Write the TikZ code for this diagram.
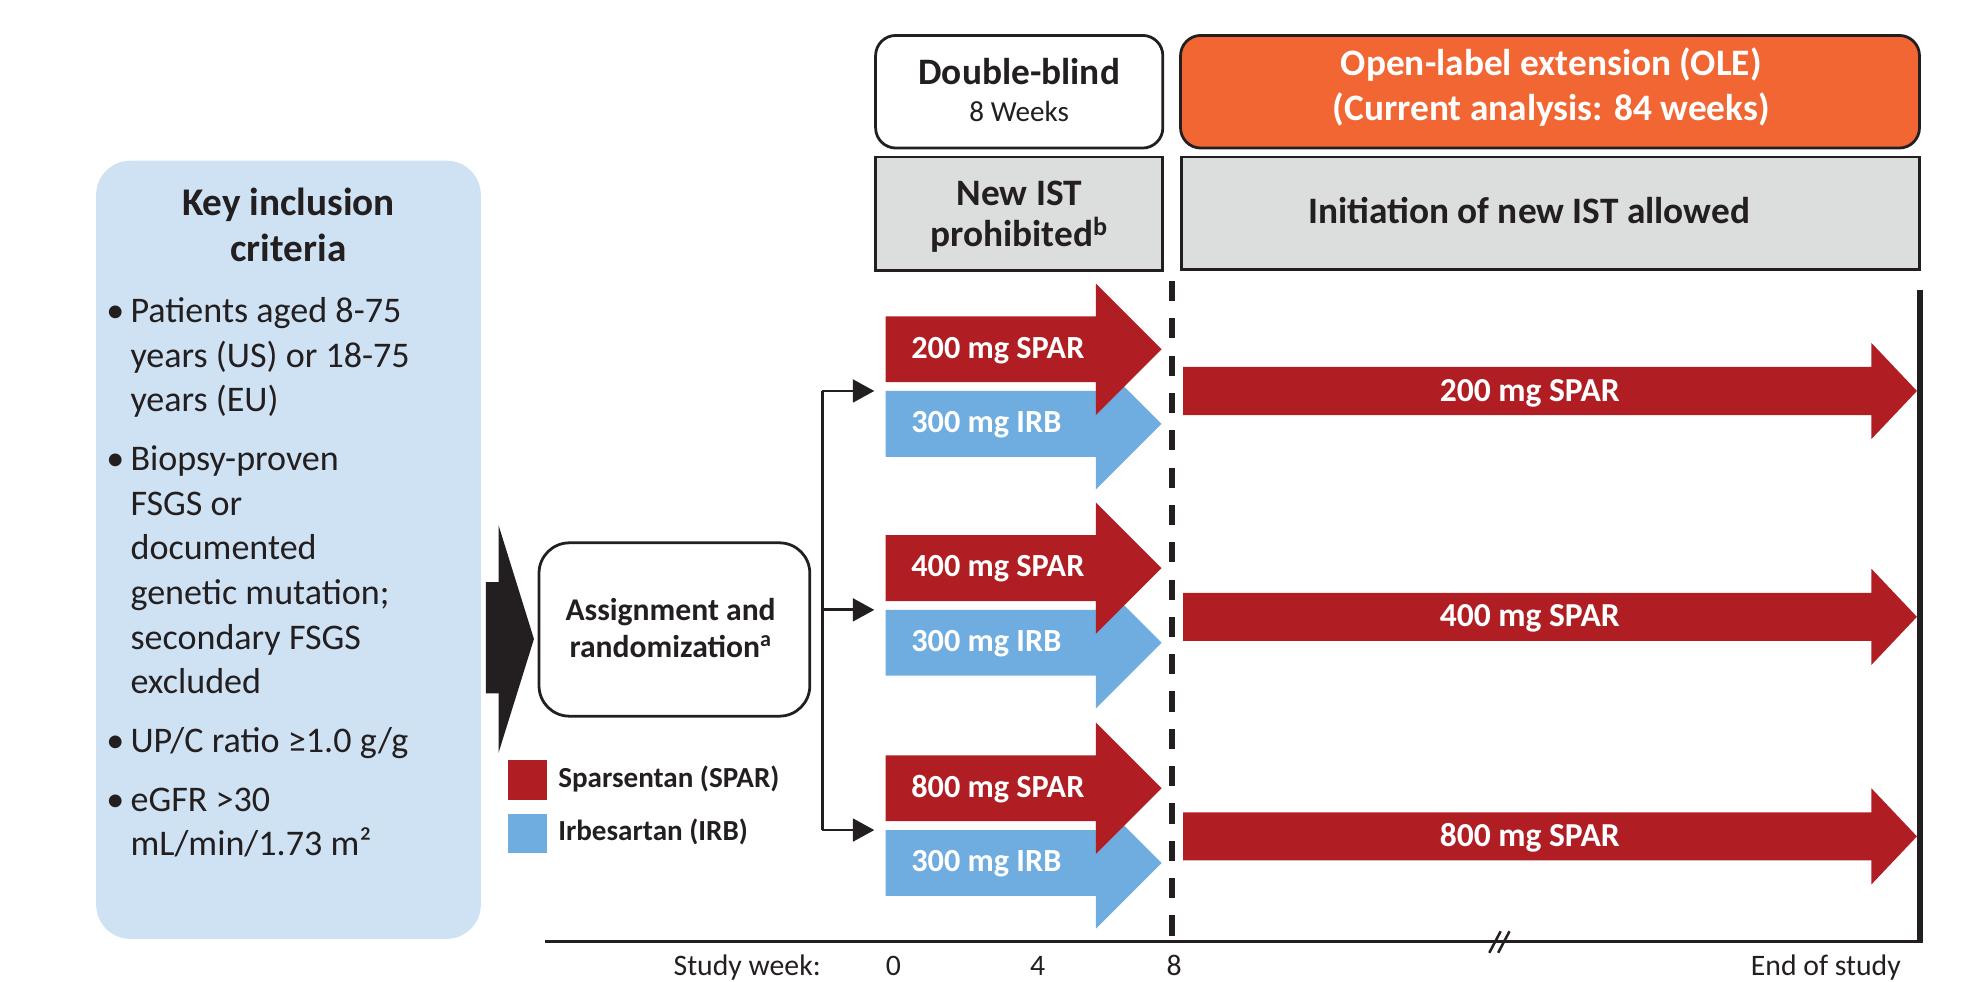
\documentclass[tikz,border=0pt]{standalone}
\usepackage{fontspec}
\setmainfont{Carlito}
\usetikzlibrary{arrows.meta}

\definecolor{ink}{HTML}{231F20}
\definecolor{spar}{HTML}{B01E24}
\definecolor{irb}{HTML}{6FADE0}
\definecolor{oleorange}{HTML}{F26633}
\definecolor{critblue}{HTML}{CFE2F3}
\definecolor{istgrey}{HTML}{DCDDDD}

\newcommand{\fsz}[2]{\fontsize{#1}{#2}\selectfont}
% bullet hanging left of the criteria text
\newcommand{\critem}{\leavevmode\llap{\textbullet\hspace{5pt}}}

\begin{document}
\begin{tikzpicture}[x=1pt,y=-1pt]
% border width of the boxes
\def\lw{2.2pt}
% node style definition
\tikzstyle{phase} = [draw=ink, line width=\lw, rounded corners=16pt, inner sep=0pt];
\tikzstyle{istbox} = [draw=ink, line width=\lw, fill=istgrey, inner sep=0pt];
\tikzstyle{plain} = [draw=none, fill=none, inner sep=0pt, text=ink];
\tikzstyle{hdtxt} = [plain, anchor=base, font=\bfseries\fsz{29.5}{36}];
\tikzstyle{dose} = [plain, text=white, font=\bfseries\fsz{25.5}{30}];
\tikzstyle{keytxt} = [plain, anchor=base west, font=\bfseries\fsz{23}{27}];
\tikzstyle{wklbl} = [plain, anchor=base, font=\fsz{23.5}{27}];
\tikzstyle{conn} = [draw=ink, line width=\lw, -{Triangle[length=17pt,width=18pt]}];

\useasboundingbox (0,0) rectangle (1568,776);

% inclusion criteria panel
\node[fill=critblue, rounded corners=27pt, minimum width=304pt, minimum height=615pt, inner sep=0pt] (crit) at (228,434.5) {};
\node[plain, anchor=base, font=\bfseries\fsz{31}{37}] (crittitle) at (228,170) {Key inclusion};
\node[plain, anchor=base, font=\bfseries\fsz{31}{37}] (crittitle2) at (228,207) {criteria};
\node[plain, anchor=base west, text width=270pt, align=left, font=\fsz{28.5}{35.3}] (critlist) at (103,255) {%
\spaceskip 6.5pt\relax
\critem Patients aged 8-75\\
years (US) or 18-75\\
years (EU)\\[11pt]
\critem Biopsy-proven\\
FSGS or\\
documented\\
genetic mutation;\\
secondary FSGS\\
excluded\\[11pt]
\critem UP/C ratio ≥1.0 g/g\\[11pt]
\critem eGFR >30\\
mL/min/1.73 m²};

% big arrow into randomization
\fill[ink] (384,460) -- (394,460) -- (394,415) -- (422,505) -- (394,595) -- (394,548) -- (384,548) -- cycle;

% randomization box
\node[phase, rounded corners=24pt, minimum width=214pt, minimum height=137pt] (assign) at (533,497.5) {};
\node[plain, anchor=base, font=\bfseries\fsz{25}{30}] (assigntxt) at (530,490) {Assignment and};
\node[plain, anchor=base, font=\bfseries\fsz{25}{30}] (assigntxt2) at (530,520) {randomization\textsuperscript{a}};

% legend
\node[fill=spar, minimum size=31pt, inner sep=0pt] (keyspar) at (417,616.5) {};
\node[keytxt] (keyspartxt) at (441,622.5) {Sparsentan (SPAR)};
\node[fill=irb, minimum size=31pt, inner sep=0pt] (keyirb) at (417,658.5) {};
\node[keytxt] (keyirbtxt) at (441,664.5) {Irbesartan (IRB)};

% phase headers
\node[phase, fill=white, minimum width=227pt, minimum height=89pt] (db) at (805.5,72.5) {};
\node[phase, fill=oleorange, minimum width=584pt, minimum height=89pt] (ole) at (1225,72.5) {};
\node[istbox, minimum width=227pt, minimum height=90pt] (ist) at (805.5,169) {};
\node[istbox, minimum width=583pt, minimum height=89pt] (istole) at (1225.5,168.5) {};

\node[hdtxt] (dbtitle) at (805.5,66.5) {Double-blind};
\node[plain, anchor=base, font=\fsz{23}{28}] (dbweeks) at (805.5,96) {8 Weeks};
\node[hdtxt, text=white] (oletitle) at (1226,59.5) {Open-label extension (OLE)};
\node[hdtxt, text=white] (olesub) at (1226,95) {(Current analysis: 84 weeks)};
\node[hdtxt] (isttitle) at (805.5,162.5) {New IST};
\node[hdtxt] (istsub) at (805.5,195) {prohibited\textsuperscript{b}};
\node[hdtxt] (istoletxt) at (1208.5,177) {Initiation of new IST allowed};

% dose arms: y of SPAR arrow / y of OLE arrow / dose
\foreach \y/\yo/\dose [count=\i] in {276/309/200, 449/487.5/400, 623/661/800}
{
	% irbesartan arrow (under the SPAR one)
	\fill[irb] (700,\y+33) -- (866,\y+33) -- (866,\y+7) -- (918,\y+59) -- (866,\y+111) -- (866,\y+85) -- (700,\y+85) -- cycle;
	% sparsentan arrow
	\fill[spar] (700,\y-26) -- (866,\y-26) -- (866,\y-52) -- (918,\y) -- (866,\y+52) -- (866,\y+26) -- (700,\y+26) -- cycle;
	% open-label arrow
	\fill[spar] (935,\yo-19) -- (1479,\yo-19) -- (1479,\yo-38) -- (1515,\yo) -- (1479,\yo+38) -- (1479,\yo+19) -- (935,\yo+19) -- cycle;

	\node[dose, anchor=base west] (spar\i) at (720,\y+7) {\dose\ mg SPAR};
	\node[dose, anchor=base west] (irb\i) at (720,\y+66) {300 mg IRB};
	\node[dose, anchor=base, font=\bfseries\fsz{26.5}{30}] (ole\i) at (1209,\yo+8) {\dose\ mg SPAR};

	\coordinate (fork\i) at (650,\y+33);
	\coordinate (arm\i) at (691,\y+33);
	\draw[conn] (fork\i) -- (arm\i);
}
\draw[ink, line width=\lw] (fork1) -- (fork3);

% end of double-blind period
\draw[ink, line width=4.3pt, dash pattern=on 16pt off 13.5pt] (926.3,222) -- (926.3,742);

% time axis
\coordinate (ax0) at (431,744);
\coordinate (axend) at (1517.5,744);
\draw[ink, line width=2.6pt] (ax0) -- (axend);
\draw[ink, line width=4.3pt] (1517.5,229) -- (1517.5,745.3);
\draw[ink, line width=2pt] (1177,753) -- (1186,736) (1184,753) -- (1193,736);

\node[wklbl] (wk) at (590.5,771) {Study week:};
\node[wklbl] (wk0) at (706,771) {0};
\node[wklbl] (wk4) at (820,771) {4};
\node[wklbl] (wk8) at (928,771) {8};
\node[wklbl] (wkend) at (1443,771) {End of study};

\end{tikzpicture}
\end{document}
